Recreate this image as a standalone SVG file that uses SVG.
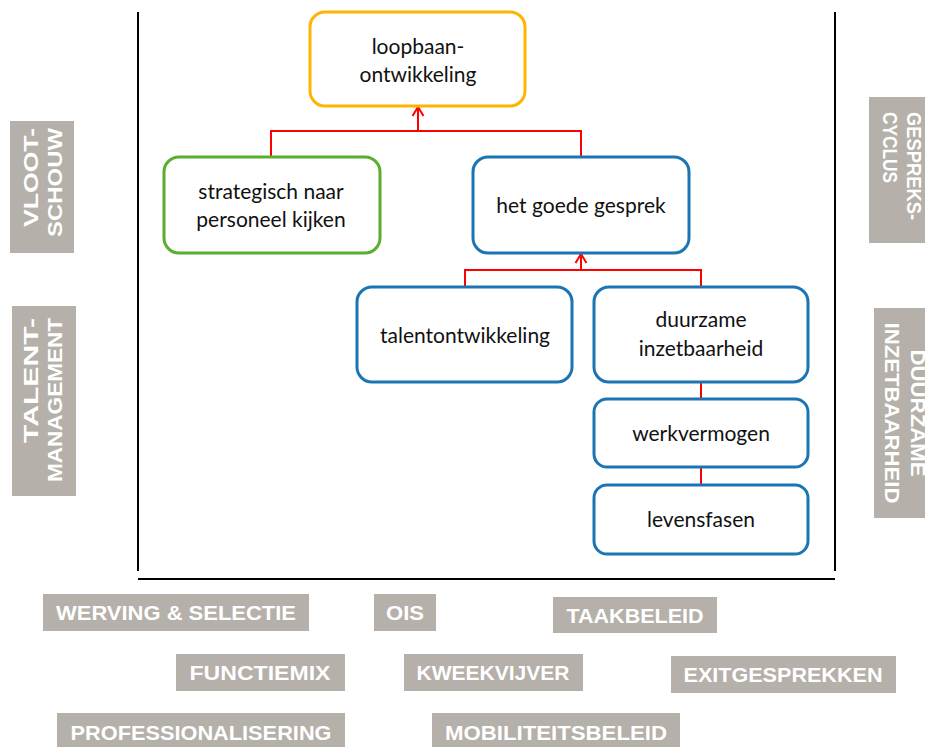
<svg xmlns="http://www.w3.org/2000/svg" width="925" height="747" viewBox="0 0 925 747">
<style>
.node rect{fill:#fff;stroke-width:3}
.node text{font-family:Lato,"Open Sans",sans-serif;font-size:21px;fill:#111;text-anchor:middle}
.tag rect{fill:#B5B0A9}
.tag text{font-family:"Liberation Sans",Arial,sans-serif;font-weight:bold;font-size:20px;fill:#fff}
.conn{fill:none;stroke:#FF0000;stroke-width:2}
.frame{stroke:#000;stroke-width:2;fill:none}
</style>
<defs>
<marker id="arr" markerWidth="14" markerHeight="14" refX="11" refY="7" orient="auto" markerUnits="userSpaceOnUse">
<path d="M2,1.5 L11,7 L2,12.5" fill="none" stroke="#FF0000" stroke-width="2"/>
</marker>
</defs>
<g id="frame">
<line class="frame" x1="138" y1="12" x2="138" y2="571"/>
<line class="frame" x1="835" y1="12" x2="835" y2="571"/>
<line class="frame" x1="138" y1="579" x2="835" y2="579"/>
</g>
<g id="connectors">
<path class="conn" d="M271,157 V131 H581 V157"/>
<path class="conn" d="M418,131 V107" marker-end="url(#arr)"/>
<path class="conn" d="M465,287 V270 H701 V287"/>
<path class="conn" d="M581,270 V254" marker-end="url(#arr)"/>
<path class="conn" d="M701,382 V399"/>
<path class="conn" d="M701,467 V485"/>
</g>
<g id="n-loopbaan" class="node"><rect x="310" y="12" width="215" height="94" rx="15" stroke="#FFB400"/><text x="418" y="54">loopbaan-</text><text x="418" y="82">ontwikkeling</text></g>
<g id="n-strategisch" class="node"><rect x="164" y="157" width="216" height="96" rx="15" stroke="#5AAE2F"/><text x="271" y="199">strategisch naar</text><text x="271" y="227">personeel kijken</text></g>
<g id="n-gesprek" class="node"><rect x="473" y="157" width="216" height="96" rx="15" stroke="#1B75B5"/><text x="581" y="213">het goede gesprek</text></g>
<g id="n-talent" class="node"><rect x="357" y="287" width="215" height="95" rx="15" stroke="#1B75B5"/><text x="465" y="343">talentontwikkeling</text></g>
<g id="n-duurzame" class="node"><rect x="594" y="287" width="214" height="95" rx="15" stroke="#1B75B5"/><text x="701" y="327">duurzame</text><text x="701" y="356">inzetbaarheid</text></g>
<g id="n-werkvermogen" class="node"><rect x="594" y="399" width="214" height="68" rx="13" stroke="#1B75B5"/><text x="701" y="441">werkvermogen</text></g>
<g id="n-levensfasen" class="node"><rect x="594" y="485" width="214" height="69" rx="13" stroke="#1B75B5"/><text x="701" y="527">levensfasen</text></g>
<g id="t-vlootschouw" class="tag"><rect x="10" y="121" width="64" height="132"/><g transform="translate(0,128) rotate(-90)"><text x="0" y="38" text-anchor="end" textLength="99" lengthAdjust="spacingAndGlyphs">VLOOT-</text><text x="0" y="62" text-anchor="end" textLength="109" lengthAdjust="spacingAndGlyphs">SCHOUW</text></g></g>
<g id="t-talentmanagement" class="tag"><rect x="12" y="306" width="64" height="190"/><g transform="translate(0,318) rotate(-90)"><text x="0" y="38" text-anchor="end" textLength="125" lengthAdjust="spacingAndGlyphs">TALENT-</text><text x="0" y="62" text-anchor="end" textLength="164" lengthAdjust="spacingAndGlyphs">MANAGEMENT</text></g></g>
<g id="t-gesprekscyclus" class="tag"><rect x="869" y="97" width="56" height="146"/><g transform="translate(925,112) rotate(90)"><text x="0" y="18" textLength="108" lengthAdjust="spacingAndGlyphs">GESPREKS-</text><text x="0" y="42" textLength="71" lengthAdjust="spacingAndGlyphs">CYCLUS</text></g></g>
<g id="t-duurzame" class="tag"><rect x="874" y="308" width="51" height="210"/><g transform="translate(925,413) rotate(90)"><text x="0" y="14" text-anchor="middle" textLength="127" lengthAdjust="spacingAndGlyphs">DUURZAME</text><text x="0" y="40" text-anchor="middle" textLength="181" lengthAdjust="spacingAndGlyphs">INZETBAARHEID</text></g></g>
<g id="t-werving" class="tag"><rect x="43" y="594" width="266" height="37"/><text x="176" y="620" text-anchor="middle" textLength="240" lengthAdjust="spacingAndGlyphs">WERVING &amp; SELECTIE</text></g>
<g id="t-ois" class="tag"><rect x="374" y="594" width="62" height="37"/><text x="405" y="620" text-anchor="middle" textLength="38" lengthAdjust="spacingAndGlyphs">OIS</text></g>
<g id="t-taakbeleid" class="tag"><rect x="553" y="597" width="164" height="36"/><text x="635" y="623" text-anchor="middle" textLength="137" lengthAdjust="spacingAndGlyphs">TAAKBELEID</text></g>
<g id="t-functiemix" class="tag"><rect x="176" y="654" width="169" height="37"/><text x="260" y="680" text-anchor="middle" textLength="141" lengthAdjust="spacingAndGlyphs">FUNCTIEMIX</text></g>
<g id="t-kweekvijver" class="tag"><rect x="404" y="654" width="179" height="37"/><text x="493" y="680" text-anchor="middle" textLength="153" lengthAdjust="spacingAndGlyphs">KWEEKVIJVER</text></g>
<g id="t-exit" class="tag"><rect x="671" y="656" width="225" height="37"/><text x="783" y="682" text-anchor="middle" textLength="199" lengthAdjust="spacingAndGlyphs">EXITGESPREKKEN</text></g>
<g id="t-prof" class="tag"><rect x="57" y="713" width="288" height="36"/><text x="201" y="740" text-anchor="middle" textLength="261" lengthAdjust="spacingAndGlyphs">PROFESSIONALISERING</text></g>
<g id="t-mobiliteit" class="tag"><rect x="432" y="713" width="248" height="36"/><text x="556" y="740" text-anchor="middle" textLength="222" lengthAdjust="spacingAndGlyphs">MOBILITEITSBELEID</text></g>
</svg>
